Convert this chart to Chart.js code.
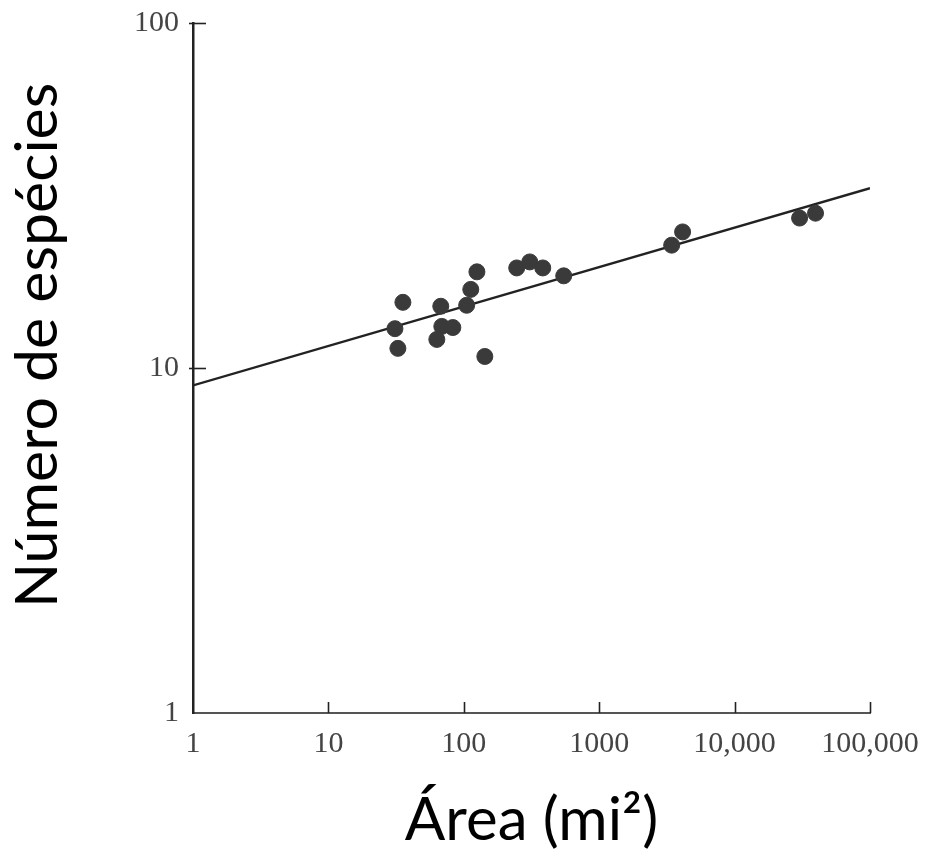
<!DOCTYPE html>
<html>
<head>
<meta charset="utf-8">
<style>
html,body{margin:0;padding:0;background:#fff;}
#wrap{width:936px;height:854px;}
</style>
<script src="https://cdn.jsdelivr.net/npm/chart.js@4.4.1/dist/chart.umd.min.js"></script>
</head>
<body>
<div id="wrap"><canvas id="c" width="936" height="854"></canvas></div>
<script>
// Data (log-log species-area plot)
const areaValues    = [35.5, 31, 32.6, 67.6, 68.8, 83, 63.2, 105, 112.6, 125, 143, 246, 307, 383, 547, 3430, 4130, 30200, 39600];
const speciesValues = [15.5, 13.0, 11.4, 15.1, 13.2, 13.1, 12.1, 15.2, 16.9, 19.0, 10.8, 19.5, 20.3, 19.5, 18.5, 22.7, 24.8, 27.2, 28.1];
const fitLineX = [1, 100000];
const fitLineY = [8.9, 33.2];
const xTickValues = [1, 10, 100, 1000, 10000, 100000];
const xTickLabels = ['1', '10', '100', '1000', '10,000', '100,000'];
const yTickValues = [1, 10, 100];
const yTickLabels = ['1', '10', '100'];

const pts = areaValues.map((a, i) => ({x: a, y: speciesValues[i]}));
const line = fitLineX.map((a, i) => ({x: a, y: fitLineY[i]}));

const innerTicks = {
  id: 'innerTicks',
  afterDraw(chart) {
    const ctx = chart.ctx, xs = chart.scales.x, ys = chart.scales.y;
    const ca = chart.chartArea;
    ctx.save();
    ctx.strokeStyle = '#222';
    ctx.lineWidth = 1.6;
    xTickValues.slice(1).forEach(v => {
      const px = Math.round(xs.getPixelForValue(v)) + 0.5;
      ctx.beginPath(); ctx.moveTo(px, ca.bottom); ctx.lineTo(px, ca.bottom - 11); ctx.stroke();
    });
    yTickValues.slice(1).forEach(v => {
      const py = Math.round(ys.getPixelForValue(v)) + 0.5;
      ctx.beginPath(); ctx.moveTo(ca.left - 4, py); ctx.lineTo(ca.left + 13, py); ctx.stroke();
    });
    ctx.restore();
  }
};

new Chart(document.getElementById('c'), {
  type: 'scatter',
  data: {
    datasets: [
      {
        data: line,
        showLine: true,
        borderColor: '#222',
        borderWidth: 2.4,
        pointRadius: 0,
        order: 2
      },
      {
        data: pts,
        backgroundColor: '#3a3a3a',
        borderColor: '#3a3a3a',
        pointRadius: 8,
        order: 1
      }
    ]
  },
  options: {
    responsive: false,
    animation: false,
    layout: {padding: {left: 0, right: 66, top: 23, bottom: 0}},
    plugins: {legend: {display: false}, tooltip: {enabled: false}},
    scales: {
      x: {
        type: 'logarithmic',
        min: 1, max: 100000,
        afterFit(s) { s.height = 141; s.paddingLeft = 0; s.paddingRight = 0; },
        afterBuildTicks(s) { s.ticks = xTickValues.map(v => ({value: v})); },
        ticks: {
          callback: (v) => xTickLabels[xTickValues.indexOf(v)],
          font: {family: 'Liberation Serif', size: 30},
          color: '#444',
          padding: 13,
          maxRotation: 0,
          autoSkip: false
        },
        grid: {display: true, drawOnChartArea: false, drawTicks: false},
        border: {display: true, color: '#555', width: 2},
        title: {
          display: true,
          text: 'Área (mi²)',
          font: {family: 'Lato', size: 60, lineHeight: 1.1},
          color: '#000',
          padding: {top: 0, bottom: 0}
        }
      },
      y: {
        type: 'logarithmic',
        min: 1, max: 100,
        afterFit(s) { s.width = 193; s.paddingTop = 0; s.paddingBottom = 0; },
        afterBuildTicks(s) { s.ticks = yTickValues.map(v => ({value: v})); },
        ticks: {
          callback: (v) => yTickLabels[yTickValues.indexOf(v)],
          font: {family: 'Liberation Serif', size: 30},
          color: '#444',
          padding: 14,
          autoSkip: false
        },
        grid: {display: true, drawOnChartArea: false, drawTicks: false},
        border: {display: true, color: '#222', width: 2.5},
        title: {
          display: true,
          text: '   Número de espécies',
          font: {family: 'Lato', size: 59, lineHeight: 1.1},
          color: '#000',
          padding: {top: 6, bottom: 0}
        }
      }
    }
  },
  plugins: [innerTicks]
});
</script>
</body>
</html>
